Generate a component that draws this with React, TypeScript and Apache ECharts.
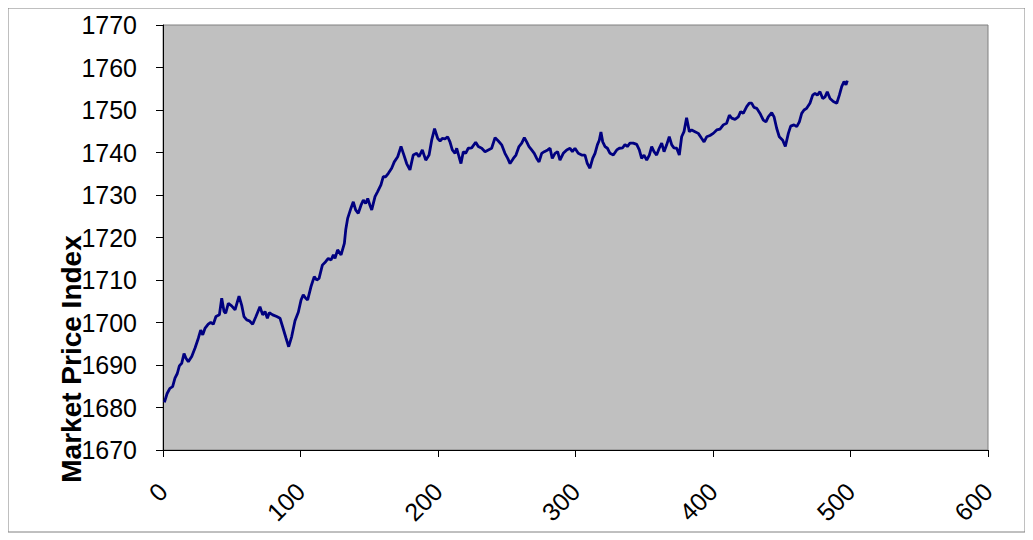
import React, { useEffect, useRef } from "react";
import * as echarts from "echarts";

const days: number[] = [
  1, 3, 5, 7, 8.7, 10.4, 11.9, 13.6, 15.3, 16.7, 18.4, 20.9, 23.3, 25.7, 27.4, 28.9, 30.5, 32.9, 34.7, 36.6,
  38.5, 41, 42.7, 44.4, 45.6, 47.5, 49.9, 52.4, 55.3, 57.2, 58.9, 60.9, 62.8, 65.2, 67.6, 70.5, 72.5, 74.2, 75.9, 77.3,
  79.8, 82.7, 85.1, 87, 89.5, 91.4, 93.6, 96, 98.4, 100.4, 102, 103.8, 105.2, 107.6, 110, 111.8, 113.5, 115.9, 118.3, 120.2,
  122.2, 123.9, 125.1, 127, 129.5, 131.9, 132.9, 134.3, 136.7, 138.4, 140.1, 142, 144, 145.7, 147.4, 148.9, 150.5, 151.8, 154.2, 156.1,
  158.5, 160.2, 162, 163.9, 166.3, 168.2, 170.7, 173.1, 174.8, 177.2, 179.6, 182, 184.5, 186.2, 188.6, 191.1, 193.5, 195.4, 197.5, 199.8,
  201.5, 203.1, 205.1, 207, 208.7, 210.4, 212.4, 213.6, 215.3, 216.7, 218.4, 220.1, 222, 224.5, 227.4, 229.3, 231.8, 234.2, 236.6, 239,
  241.5, 243.9, 246.3, 248.7, 250.7, 252.4, 254.8, 256.7, 258.9, 260.9, 262.8, 264.5, 266.2, 268.1, 270, 271.8, 273.5, 275.4, 277.3, 279.8,
  281.5, 283.1, 285.1, 287, 288.7, 291.1, 293.6, 296, 297.7, 299.6, 302, 304.5, 306.9, 308.6, 310.5, 312.5, 314.2, 315.9, 317.3, 318.5,
  319.8, 321.5, 323.2, 325.1, 327.5, 330, 331.9, 334.3, 336, 337.7, 339.6, 342, 344.5, 346.4, 348.1, 349.8, 351.8, 353.7, 355.4, 357.1,
  359, 360.9, 362.7, 364.4, 366.3, 368.2, 370, 371.6, 373.6, 375.5, 377.2, 378.9, 380.8, 382.8, 384.5, 386.9, 389.3, 391.8, 393.5, 395.4,
  397.8, 400.2, 402.7, 405.1, 407.5, 409.9, 411.9, 413.6, 416, 418.4, 420.1, 422, 424.5, 426.4, 428.1, 429.8, 431.8, 434.2, 436.6, 438.5,
  440.2, 442.7, 444.4, 446.3, 448.2, 450.7, 452.6, 454.8, 456.5, 458.9, 460.9, 462.8, 464.5, 466.2, 468.1, 470.5, 472.5, 474.2, 475.9, 477.8,
  479.8, 481.5, 483.1, 485.1, 487.5, 490, 491.9, 493.6, 495.3, 496.7, 497.7,
];

const prices: number[] = [
  1681.2, 1683.3, 1684.5, 1684.9, 1686.9, 1688, 1689.8, 1690.4, 1692.7, 1691.6, 1690.8, 1692, 1694, 1696.3, 1698.2, 1697.1, 1698.6, 1699.6, 1700, 1699.6,
  1701.4, 1701.8, 1705.7, 1702.6, 1702.2, 1704.5, 1703.9, 1703, 1706.2, 1704.1, 1701.4, 1700.6, 1700.4, 1699.6, 1701.4, 1703.7, 1701.8, 1702.6, 1701, 1702.3,
  1701.8, 1701.4, 1701, 1699, 1696.3, 1694.3, 1696.7, 1700.4, 1702.4, 1705.3, 1706.5, 1705.7, 1705.3, 1708.4, 1710.8, 1710, 1710.4, 1713.5, 1714.3, 1715.1,
  1714.7, 1715.9, 1715.1, 1717.1, 1715.9, 1718.6, 1721.8, 1724.5, 1726.9, 1728.4, 1726.5, 1725.7, 1727.6, 1728.8, 1728, 1729.2, 1727.6, 1726.5, 1729.6, 1730.8,
  1732.4, 1734.3, 1734.3, 1735.1, 1736.3, 1737.8, 1739, 1741.4, 1739.8, 1737.4, 1735.9, 1739.4, 1739.8, 1739, 1740.6, 1738.2, 1739.4, 1742.9, 1745.6, 1743.3,
  1742.7, 1743.3, 1743.2, 1743.7, 1742.5, 1740.6, 1739.8, 1741, 1739, 1737.4, 1740.2, 1739.8, 1741, 1741.1, 1742.4, 1741.4, 1741, 1740.2, 1740.6, 1741,
  1743.5, 1742.7, 1741.8, 1739.8, 1738.6, 1737.4, 1738.6, 1739.4, 1741.4, 1742.2, 1743.5, 1742.5, 1741.4, 1740.6, 1739.8, 1738.6, 1737.8, 1739.8, 1740.2, 1740.6,
  1741, 1738.6, 1739.8, 1740.2, 1738.2, 1739.8, 1740.6, 1741, 1740.2, 1741, 1739.8, 1739.4, 1739.4, 1737.4, 1736.3, 1738.6, 1739.8, 1741.8, 1742.9, 1744.8,
  1742.5, 1741.4, 1741, 1739.8, 1739.4, 1740.6, 1741, 1741.1, 1741.9, 1741.4, 1742.2, 1742.2, 1741.9, 1740.6, 1738.6, 1739.4, 1738.2, 1739.4, 1741.4, 1740.2,
  1739.4, 1741, 1742.2, 1740.2, 1741.8, 1743.7, 1741.8, 1741.1, 1741, 1739.4, 1743.7, 1744.9, 1748.2, 1744.9, 1745.3, 1744.9, 1744.5, 1743.3, 1742.5, 1743.7,
  1744, 1744.5, 1745.3, 1745.5, 1746.5, 1746.9, 1748.8, 1748.1, 1747.8, 1748.4, 1749.6, 1749.2, 1750.8, 1751.6, 1751.6, 1750.6, 1750.4, 1749.2, 1747.6, 1747.2,
  1748.4, 1749.4, 1748.4, 1745.7, 1743.7, 1742.9, 1741.4, 1744.5, 1746.2, 1746.5, 1746.1, 1747.2, 1749.2, 1750, 1750.4, 1751.6, 1753.5, 1753.9, 1753.5, 1754.3,
  1752.7, 1753.1, 1754.3, 1752.7, 1752, 1751.6, 1753.5, 1755.5, 1756.7, 1755.9, 1756.9,
];

const xTicks = { min: 0, max: 600, interval: 100 };
const yTicks = { min: 1670, max: 1770, interval: 10 };
const yTitle = "Market Price Index";

export default function App() {
  const ref = useRef<HTMLDivElement>(null);

  useEffect(() => {
    if (!ref.current) return;
    const chart = echarts.init(ref.current, undefined, { renderer: "svg" });
    const data = days.map((d, i) => [d, prices[i]]);
    chart.setOption({
      animation: false,
      backgroundColor: "#ffffff",
      textStyle: { fontFamily: "Liberation Sans, Arial, sans-serif" },
      grid: {
        left: 155,
        top: 17,
        width: 825,
        height: 425,
        show: true,
        backgroundColor: "#c0c0c0",
        borderColor: "#808080",
        borderWidth: 1,
      },
      xAxis: {
        type: "value",
        min: xTicks.min,
        max: xTicks.max,
        interval: xTicks.interval,
        axisLine: { show: true, onZero: false, lineStyle: { color: "#000000", width: 1 } },
        axisTick: { show: true, inside: false, length: 7, lineStyle: { color: "#000000" } },
        splitLine: { show: false },
        axisLabel: {
          rotate: 45,
          margin: 37,
          fontSize: 25,
          color: "#000000",
          fontFamily: "Liberation Sans, Arial, sans-serif",
          formatter: (v: number) => String(v),
        },
      },
      yAxis: {
        type: "value",
        min: yTicks.min,
        max: yTicks.max,
        interval: yTicks.interval,
        axisLine: { show: true, onZero: false, lineStyle: { color: "#000000", width: 1 } },
        axisTick: { show: true, inside: false, length: 7, lineStyle: { color: "#000000" } },
        splitLine: { show: false },
        axisLabel: {
          margin: 26,
          fontSize: 25,
          color: "#000000",
          fontFamily: "Liberation Sans, Arial, sans-serif",
          formatter: (v: number) => String(v),
        },
      },
      graphic: [
        {
          type: "rect",
          shape: { x: 0, y: 0, width: 1017, height: 524 },
          style: { fill: "none", stroke: "#808080", lineWidth: 1 },
          silent: true,
        },
        {
          type: "text",
          x: 63,
          y: 351,
          rotation: Math.PI / 2,
          style: {
            text: yTitle,
            font: "bold 28px 'Liberation Sans', Arial, sans-serif",
            fill: "#000000",
            align: "center",
            verticalAlign: "middle",
          },
        },
      ],
      series: [
        {
          type: "line",
          data,
          showSymbol: false,
          symbol: "none",
          lineStyle: { color: "#000080", width: 2.8 },
          smooth: false,
        },
      ],
    });
    return () => chart.dispose();
  }, []);

  return <div ref={ref} style={{ width: 1025, height: 532 }} />;
}
